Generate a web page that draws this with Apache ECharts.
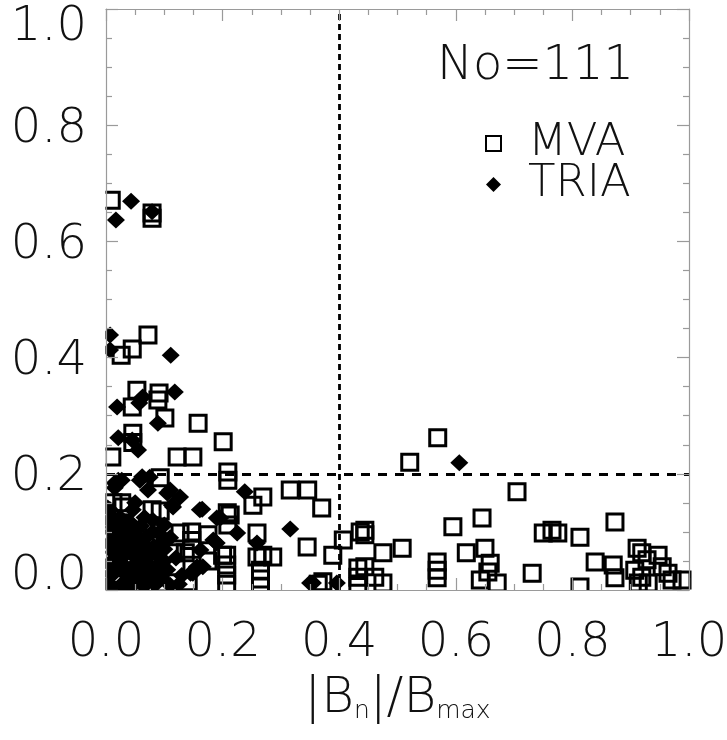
<!DOCTYPE html>
<html>
<head>
<meta charset="utf-8">
<script src="https://cdn.jsdelivr.net/npm/echarts@6/dist/echarts.min.js"></script>
<style>
  html, body { margin: 0; padding: 0; background: #fff; }
  #chart { width: 727px; height: 740px; }
</style>
</head>
<body>
<div id="chart"></div>
<script>
// Normalised normal field |Bn|/Bmax (x) against the second ratio (y) for each event
const xTicks = [0.0, 0.2, 0.4, 0.6, 0.8, 1.0];
const yTicks = [0.0, 0.2, 0.4, 0.6, 0.8, 1.0];
const eventCount = 111;
const xThreshold = 0.4;
const yThreshold = 0.2;

// Minimum variance analysis results
const mvaPoints = [
  [0.009,0.671],[0.079,0.649],[0.079,0.640],
  [0.072,0.439],[0.045,0.415],[0.026,0.404],
  [0.053,0.344],[0.091,0.339],[0.089,0.327],[0.045,0.315],[0.101,0.296],[0.158,0.287],
  [0.201,0.255],[0.046,0.270],[0.046,0.254],
  [0.122,0.229],[0.149,0.229],[0.010,0.229],
  [0.209,0.203],[0.209,0.189],[0.093,0.193],
  [0.316,0.172],[0.346,0.172],[0.370,0.141],[0.269,0.160],[0.252,0.146],[0.345,0.074],
  [0.093,0.136],[0.079,0.138],[0.027,0.150],[0.012,0.150],[0.029,0.143],[0.208,0.133],
  [0.213,0.129],[0.209,0.112],[0.259,0.098],
  [0.269,0.060],[0.286,0.057],[0.259,0.057],
  [0.207,0.060],[0.207,0.043],[0.207,0.026],[0.207,0.010],
  [0.265,0.034],[0.265,0.019],[0.265,0.005],
  [0.127,0.098],[0.147,0.100],[0.147,0.085],[0.147,0.070],[0.136,0.064],[0.115,0.064],
  [0.175,0.095],[0.200,0.060],[0.175,0.050],
  [0.141,0.014],[0.093,0.012],[0.120,0.040],[0.020,0.115],[0.060,0.060],[0.085,0.030],
  [0.372,0.014],[0.364,0.010],
  [0.389,0.060],[0.407,0.086],[0.436,0.100],[0.444,0.103],[0.444,0.095],
  [0.432,0.038],[0.432,0.022],[0.432,0.006],
  [0.444,0.040],[0.461,0.022],[0.475,0.012],[0.475,0.064],[0.508,0.072],
  [0.521,0.220],[0.569,0.262],[0.705,0.169],
  [0.645,0.124],[0.595,0.109],[0.618,0.064],[0.650,0.072],[0.659,0.046],[0.655,0.031],
  [0.642,0.017],[0.671,0.012],
  [0.568,0.048],[0.568,0.034],[0.568,0.021],
  [0.731,0.029],
  [0.873,0.117],[0.750,0.098],[0.765,0.103],[0.775,0.098],[0.813,0.091],[0.839,0.048],
  [0.870,0.043],[0.873,0.021],[0.813,0.005],
  [0.911,0.072],[0.919,0.064],[0.928,0.052],[0.947,0.060],[0.954,0.040],[0.907,0.034],
  [0.919,0.022],[0.913,0.012],[0.964,0.029],[0.930,0.012],[0.971,0.017],[0.988,0.017]
];

// Triangulation (four-spacecraft timing) results
const triaPoints = [
  [0.043,0.669],[0.017,0.637],[0.079,0.651],
  [0.007,0.439],[0.007,0.413],[0.111,0.404],
  [0.118,0.341],[0.063,0.332],[0.019,0.315],[0.057,0.322],[0.089,0.287],
  [0.021,0.262],[0.045,0.258],[0.055,0.241],
  [0.606,0.219],
  [0.238,0.169],[0.316,0.105],[0.165,0.139],[0.127,0.160],[0.110,0.172],[0.072,0.172],
  [0.062,0.195],[0.021,0.189],[0.015,0.176],[0.007,0.138],[0.050,0.150],[0.115,0.143],
  [0.196,0.124],[0.225,0.098],[0.259,0.081],[0.184,0.086],[0.162,0.069],[0.156,0.040],
  [0.145,0.029],[0.105,0.167],[0.003,0.141],[0.046,0.138],[0.113,0.146],[0.161,0.138],
  [0.190,0.124],[0.190,0.081],[0.166,0.040],[0.149,0.029],[0.058,0.189],[0.075,0.194],
  [0.015,0.184],[0.027,0.189],
  [0.355,0.012],[0.396,0.012],[0.350,0.012],
  [0.005,0.120],[0.020,0.112],[0.040,0.118],[0.060,0.110],[0.080,0.120],[0.100,0.112],
  [0.010,0.100],[0.030,0.095],[0.050,0.102],[0.070,0.092],[0.090,0.098],[0.110,0.090],
  [0.005,0.080],[0.022,0.085],[0.042,0.078],[0.062,0.082],[0.082,0.075],[0.100,0.070],
  [0.012,0.065],[0.032,0.060],[0.052,0.066],[0.072,0.058],[0.092,0.055],
  [0.005,0.045],[0.025,0.048],[0.045,0.040],[0.065,0.045],[0.085,0.038],[0.105,0.035],
  [0.015,0.030],[0.035,0.025],[0.055,0.030],[0.075,0.022],[0.095,0.020],
  [0.005,0.012],[0.025,0.008],[0.045,0.014],[0.065,0.006],[0.085,0.010],[0.110,0.008],
  [0.012,0.002],[0.040,0.002],[0.070,0.020],[0.130,0.025],[0.120,0.055],[0.125,0.010],
  [0.018,0.055],[0.038,0.070],[0.058,0.050],[0.078,0.040],[0.030,0.110],[0.015,0.090],
  [0.055,0.088],[0.098,0.085],[0.035,0.010],[0.058,0.018],[0.100,0.050],[0.008,0.028],
  [0.028,0.035],[0.048,0.058],[0.068,0.070],[0.088,0.062],[0.018,0.073],[0.080,0.100],
  [0.040,0.090],[0.060,0.035],[0.024,0.125],[0.066,0.125],[0.012,0.108],[0.092,0.030]
];

const FONT = '"DejaVu Sans", sans-serif';
const axisGrey = '#9a9a9a';

function frameAxis(pos, show) {
  return {
    type: 'value', min: 0, max: 1, interval: 0.2, position: pos,
    axisLine: { show: true, onZero: false, lineStyle: { color: axisGrey, width: 1.2 } },
    axisTick: { show: true, inside: true, length: 12, lineStyle: { color: axisGrey, width: 1.2 } },
    minorTick: { show: true, splitNumber: 4, length: 6, lineStyle: { color: axisGrey, width: 1.2 } },
    splitLine: { show: false },
    axisLabel: { show: show },
    z: 5
  };
}

const tickText = { fontFamily: FONT, fontWeight: 200, fontSize: 48, color: '#111' };

const xBottom = frameAxis('bottom', true);
xBottom.axisLabel = Object.assign({
  show: true, margin: 30,
  formatter: v => xTicks.includes(+v.toFixed(1)) ? v.toFixed(1) : ''
}, tickText);
xBottom.name = '{m||B}{s|n}{m||/B}{s|max}';
xBottom.nameLocation = 'middle';
xBottom.nameGap = 78;
xBottom.nameTextStyle = {
  rich: {
    m: { fontFamily: FONT, fontWeight: 200, fontSize: 50, color: '#111', verticalAlign: 'bottom', lineHeight: 56 },
    s: { fontFamily: FONT, fontWeight: 300, fontSize: 25, color: '#111', verticalAlign: 'bottom', lineHeight: 40 }
  }
};

// Left labels: the end labels are pulled inside the frame, the others sit just under their tick
const yLeft = frameAxis('left', true);
yLeft.axisLabel = {
  show: true, margin: 19,
  formatter: v => {
    const t = +v.toFixed(1);
    if (!yTicks.includes(t)) return '';
    const key = t === 1 ? 'hi' : (t === 0 ? 'lo' : 'md');
    return '{' + key + '|' + v.toFixed(1) + '}';
  },
  rich: {
    hi: Object.assign({ padding: [38, 0, 0, 0] }, tickText),
    md: Object.assign({ padding: [8, 0, 0, 0] }, tickText),
    lo: Object.assign({ padding: [0, 0, 26, 0] }, tickText)
  }
};

const option = {
  animation: false,
  backgroundColor: '#fff',
  grid: { left: 106, right: 38, top: 9, bottom: 150, containLabel: false, outerBoundsMode: 'none' },
  title: {
    text: 'No=' + eventCount,
    left: 432, top: 38,
    textStyle: { fontFamily: FONT, fontWeight: 200, fontSize: 48, color: '#111' }
  },
  legend: {
    orient: 'vertical',
    left: 480, top: 116,
    itemGap: -4,
    itemWidth: 15, itemHeight: 15,
    selectedMode: false,
    textStyle: {
      fontFamily: FONT, fontWeight: 200, fontSize: 45, color: '#111',
      lineHeight: 40, padding: [0, 0, 0, 22]
    },
    data: ['MVA', 'TRIA']
  },
  xAxis: [xBottom, frameAxis('top', false)],
  yAxis: [yLeft, frameAxis('right', false)],
  series: [
    {
      name: 'MVA', type: 'scatter', xAxisIndex: 0, yAxisIndex: 0,
      symbol: 'rect', symbolSize: 16,
      itemStyle: { color: 'rgba(255,255,255,0)', borderColor: '#000', borderWidth: 3, opacity: 1 },
      data: mvaPoints,
      markLine: {
        silent: true, symbol: 'none', label: { show: false },
        data: [
          { xAxis: xThreshold, lineStyle: { color: '#000', width: 2.8, type: [6, 4] } },
          { yAxis: yThreshold, lineStyle: { color: '#000', width: 2.8, type: [9, 8] } }
        ]
      }
    },
    {
      name: 'TRIA', type: 'scatter', xAxisIndex: 0, yAxisIndex: 0,
      symbol: 'diamond', symbolSize: [18, 17],
      itemStyle: { color: '#000', opacity: 1 },
      data: triaPoints
    }
  ]
};

const chart = echarts.init(document.getElementById('chart'), null, { renderer: 'canvas' });
chart.setOption(option);

// Markers are cut at the plot frame: white bands just outside the left and bottom edges
const origin = chart.convertToPixel({ gridIndex: 0 }, [0, 0]);
const corner = chart.convertToPixel({ gridIndex: 0 }, [1, 1]);
chart.setOption({
  graphic: [
    { type: 'rect', z: 3, silent: true,
      shape: { x: origin[0] - 14, y: corner[1] - 2, width: 13.4, height: origin[1] - corner[1] + 16 },
      style: { fill: '#fff' } },
    { type: 'rect', z: 3, silent: true,
      shape: { x: origin[0] - 14, y: origin[1] + 0.6, width: corner[0] - origin[0] + 30, height: 12 },
      style: { fill: '#fff' } }
  ]
});
</script>
</body>
</html>
